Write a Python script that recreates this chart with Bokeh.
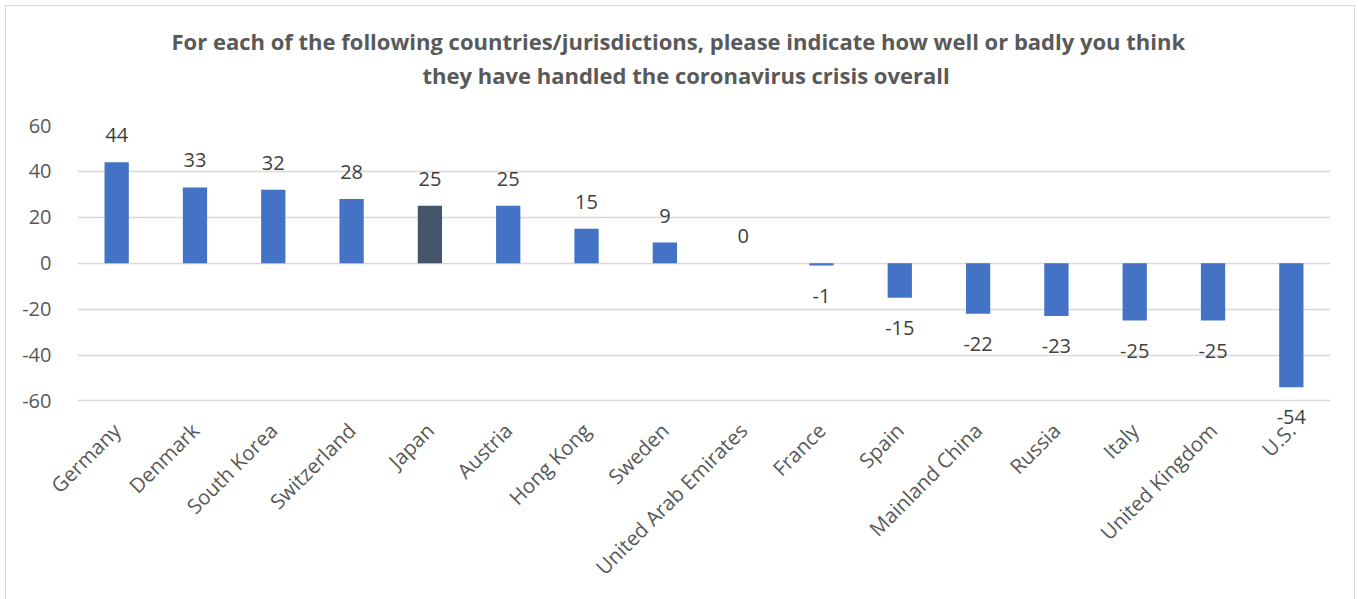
from bokeh.plotting import figure
from bokeh.models import ColumnDataSource, FixedTicker, Title, LabelSet
from bokeh.embed import file_html
from bokeh.resources import INLINE
from bokeh.core.properties import value
import math

countries = ["Germany", "Denmark", "South Korea", "Switzerland", "Japan", "Austria",
             "Hong Kong", "Sweden", "United Arab Emirates", "France", "Spain",
             "Mainland China", "Russia", "Italy", "United Kingdom", "U.S."]
scores = [44, 33, 32, 28, 25, 25, 15, 9, 0, -1, -15, -22, -23, -25, -25, -54]
y_ticks = [-60, -40, -20, 0, 20, 40, 60]
highlight = "Japan"
title_line1 = "For each of the following countries/jurisdictions, please indicate how well or badly you think"
title_line2 = "they have handled the coronavirus crisis overall"

BLUE = "#4472c4"
DARK = "#44546a"
GRAY = "#595959"
GRID = "#d9d9d9"
FONT = "Open Sans"

colors = [DARK if c == highlight else BLUE for c in countries]
offsets = [27 if v >= 0 else -30 for v in scores]
labels = [str(v) for v in scores]

src = ColumnDataSource(dict(x=countries, top=scores, color=colors,
                            ly=scores, off=offsets, txt=labels))

# y range extends below -60 so that the "-54" label is not clipped
p = figure(x_range=countries, y_range=(-72, 60), width=1350, height=600,
           output_backend="svg", toolbar_location=None,
           min_border_left=71, min_border_right=26, min_border_top=119,
           min_border_bottom=178)
p.margin = (5, 0, 0, 5)
p.styles = {"border": "1px solid #d9d9d9", "box-sizing": "border-box"}

p.vbar(x="x", top="top", bottom=0, width=0.31, fill_color="color",
       line_color=None, source=src)
p.add_layout(LabelSet(x="x", y="ly", text="txt", y_offset="off", source=src,
                      text_align="center", text_baseline="middle",
                      text_font=value(FONT), text_font_size="20px",
                      text_color="#404040"))

p.outline_line_color = None
p.xgrid.grid_line_color = None
p.ygrid.grid_line_color = GRID
p.ygrid.grid_line_width = 1.5
p.yaxis.ticker = FixedTicker(ticks=y_ticks)
p.yaxis.major_label_overrides = {t: str(t) for t in y_ticks}
p.yaxis.axis_line_color = None
p.yaxis.major_tick_line_color = None
p.yaxis.minor_tick_line_color = None
p.yaxis.major_label_text_font = FONT
p.yaxis.major_label_text_font_size = "20px"
p.yaxis.major_label_text_color = GRAY
p.yaxis.major_label_standoff = 20

p.xaxis.axis_line_color = None
p.xaxis.major_tick_line_color = None
p.xaxis.major_label_orientation = math.pi / 4
p.xaxis.major_label_text_font = FONT
p.xaxis.major_label_text_font_size = "20.5px"
p.xaxis.major_label_text_color = GRAY
p.xaxis.major_label_standoff = -8

spacer = Title(text=" ", text_font_size="1px", standoff=33)
t2 = Title(text=title_line2, align="left", offset=345,
           text_font=FONT, text_font_size="22px", text_font_style="bold",
           text_color=GRAY, standoff=0)
t1 = Title(text=title_line1, align="left", offset=94,
           text_font=FONT, text_font_size="22px", text_font_style="bold",
           text_color=GRAY, standoff=3)
p.add_layout(spacer, "above")
p.add_layout(t2, "above")
p.add_layout(t1, "above")

open("out.html", "w").write(file_html(p, INLINE))
